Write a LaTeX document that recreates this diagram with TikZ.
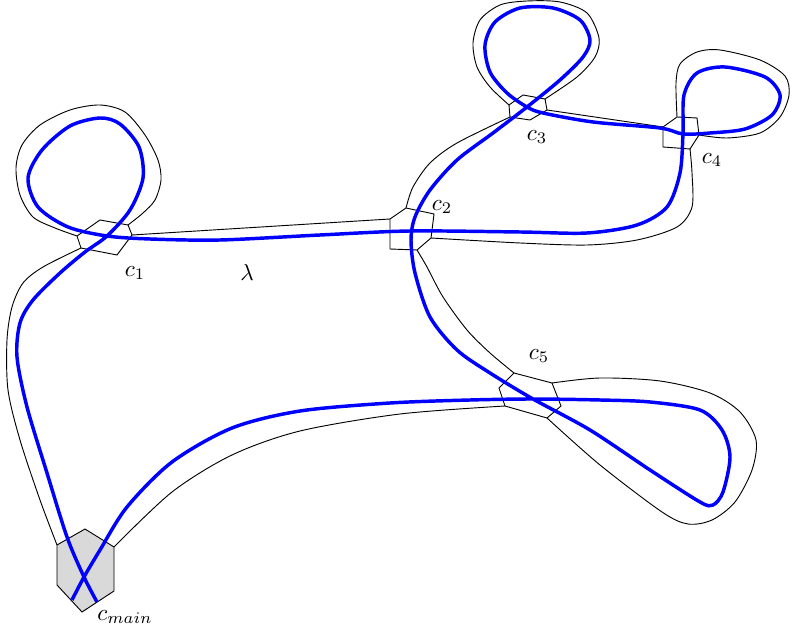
\documentclass[tikz,border=0pt]{standalone}
\usepackage{amsmath,amssymb}
\usepackage{xcolor}
\usepackage{tikz}
\usetikzlibrary{arrows.meta,positioning,calc}

\begin{document}
\begin{tikzpicture}[
  x=0.01524cm, y=-0.01524cm,
  cellshape/.style={draw=black, thin},
  maincell/.style={cellshape, fill=gray!30},
  rim/.style={draw=black, thin},
  walk/.style={draw=blue, line width=1.5pt, line join=round}
]

\useasboundingbox (0, 0) rectangle (794, 637);

% ==================== CELLS ====================
\draw[cellshape] (77,236) coordinate (c1a) -- (100,220) coordinate (c1b) -- (128,225) coordinate (c1c)
  -- (132,235) coordinate (c1d) -- (117,255) coordinate (c1e) -- (81,248) coordinate (c1f) -- cycle;
\draw[cellshape] (390,219) coordinate (c2a) -- (406,208) coordinate (c2b) -- (434,214) coordinate (c2c)
  -- (431,238) coordinate (c2d) -- (417,250) coordinate (c2e) -- (390,249) coordinate (c2f) -- cycle;
\draw[cellshape] (509,105) coordinate (c3a) -- (523,95) coordinate (c3b) -- (545,99) coordinate (c3c)
  -- (547,110) coordinate (c3d) -- (530,120) coordinate (c3e) -- (510,117) coordinate (c3f) -- cycle;
\draw[cellshape] (663,127) coordinate (c4a) -- (677,117) coordinate (c4b) -- (697,118) coordinate (c4c)
  -- (699,135) coordinate (c4d) -- (690,149) coordinate (c4e) -- (663,147) coordinate (c4f) -- cycle;
\draw[cellshape] (499,388) coordinate (c5a) -- (514,373) coordinate (c5b) -- (552,383) coordinate (c5c)
  -- (561,406) coordinate (c5d) -- (547,418) coordinate (c5e) -- (505,406) coordinate (c5f) -- cycle;
\draw[maincell] (57,545) coordinate (m1) -- (85,529) coordinate (m2) -- (114,547) coordinate (m3)
  -- (114,591) coordinate (m4) -- (82,612) coordinate (m5) -- (57,585) coordinate (m6) -- cycle;

% ==================== BAND EDGES ====================
% loop at c1
\draw[rim] plot[smooth] coordinates {(c1a) (55,228) (33,217) (20,195) (16,168) (22,145) (40,125)
  (70,110) (100,105) (125,112) (145,135) (158,160) (161,180) (155,200) (143,213) (c1c)};
% c1 -- cmain
\draw[rim] plot[smooth] coordinates {(c1f) (43,267) (23,283) (12,307) (7,340) (8,390) (20,440)
  (40,500) (m1)};
% c1 -- c2
\draw[rim] (c1d) -- (c2a);
% c2 -- c3
\draw[rim] plot[smooth] coordinates {(c2b) (413,187) (430,163) (457,143) (c3f)};
% loop at c3
\draw[rim] plot[smooth] coordinates {(c3a) (490,87) (477,67) (473,43) (480,20) (500,5) (527,1)
  (560,2) (587,13) (599,38) (595,57) (577,77) (c3c)};
% c3 -- c4
\draw[rim] (c3d) -- (c4a);
% loop at c4
\draw[rim] plot[smooth] coordinates {(c4b) (676,83) (680,64) (697,52) (720,50) (760,60) (785,76)
  (789,95) (780,117) (760,133) (727,138) (c4d)};
% c4 -- c2
\draw[rim] plot[smooth] coordinates {(c4e) (692,173) (692,207) (677,227) (637,240) (587,245)
  (520,243) (c2d)};
% c2 -- c5
\draw[rim] plot[smooth] coordinates {(c2e) (427,267) (443,297) (467,330) (490,353) (c5b)};
% loop at c5
\draw[rim] plot[smooth] coordinates {(c5c) (600,378) (660,381) (710,393) (740,412) (756,440)
  (752,470) (735,502) (712,520) (688,524) (662,512) (600,465) (c5e)};
% c5 -- cmain
\draw[rim] plot[smooth] coordinates {(c5f) (400,414) (300,431) (232,455) (172,492) (m3)};

% ==================== WALK ====================
\draw[walk] plot[smooth] coordinates {
  (97,602) (84,577) (67,537) (47,473) (27,407) (17,357) (20,323) (33,300) (60,273) (85,252)
  (107,236) (130,210) (143,178) (139,147) (120,124) (100,118) (70,126) (42,150) (28,178)
  (38,207) (68,227) (107,236) (150,239) (220,240) (320,235) (410,231)
  (520,232) (587,233) (637,225) (667,207) (680,173) (683,133) (684,95) (697,73)
  (725,67) (765,77) (780,95) (772,115) (745,129) (710,133) (683,134) (660,128) (593,122)
  (543,113) (527,107) (507,93) (490,72) (485,45) (495,22) (520,8) (553,8) (580,20) (590,40)
  (583,57) (560,80) (527,107) (493,133) (457,160) (430,190) (415,217) (411,240) (415,273)
  (430,317) (457,350) (490,373) (533,399) (590,430) (650,470) (700,502) (713,505) (723,492)
  (730,457) (722,430) (700,410) (650,402) (600,400) (533,399) (470,400) (390,403) (300,411)
  (232,428) (172,462) (127,507) (100,550) (84,577) (72,600)};

% ==================== LABELS ====================
\node (lab1) at (135,273) {$c_1$};
\node (lab2) at (442,207) {$c_2$};
\node (lab3) at (537,137) {$c_3$};
\node (lab4) at (712,160) {$c_4$};
\node (lab5) at (539,356) {$c_5$};
\node (labm) at (125,617) {$c_{main}$};
\node (lam) at (247,272) {$\lambda$};

\end{tikzpicture}
\end{document}
